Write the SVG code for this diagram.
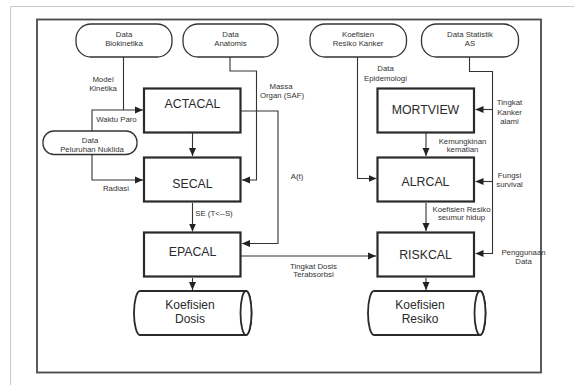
<svg xmlns="http://www.w3.org/2000/svg" width="574" height="385" viewBox="0 0 574 385">
<defs>
<marker id="ah" viewBox="0 0 8 8" refX="8" refY="4" markerWidth="8" markerHeight="8" markerUnits="userSpaceOnUse" orient="auto">
<path d="M0,0.5 L8,4 L0,7.5 Z" fill="#222"/>
</marker>
<style>
.pill{fill:#fff;stroke:#333;stroke-width:1.3}
.box{fill:#fff;stroke:#2a2a2a;stroke-width:2.2}
.cyl{fill:#fff;stroke:#2a2a2a;stroke-width:1.8}
.c{fill:none;stroke:#333;stroke-width:1.1}
.a{marker-end:url(#ah)}
text{font-family:"Liberation Sans",Arial,sans-serif;fill:#333}
.s{font-size:7.8px;text-anchor:middle}
.n{font-size:12.3px;text-anchor:middle;fill:#2a2a2a}
.k{font-size:12px;text-anchor:middle;fill:#2a2a2a}
</style>
</defs>
<rect width="574" height="385" fill="#fff"/>
<path d="M10.5,385 V6.5 H574" fill="none" stroke="#c8c8c8" stroke-width="1"/>
<rect x="37" y="19.5" width="504" height="353" fill="none" stroke="#4a4a4a" stroke-width="1.8"/>

<g id="connectors">
<path class="c" d="M123.5,57 V110"/>
<path class="c a" d="M92,131 V110 H143"/>
<path class="c a" d="M92,154 V180 H143"/>
<path class="c a" d="M192.5,133 V156"/>
<path class="c a" d="M230,57 V71 H256.5 V180 H242"/>
<path class="c a" d="M241,111 H278 V243.5 H242"/>
<path class="c a" d="M192.5,203 V231.5"/>
<path class="c a" d="M241,256 H376"/>
<path class="c a" d="M192.5,278 V290"/>
<path class="c a" d="M357.5,57 V178.5 H376.5"/>
<path class="c a" d="M469.5,57 V71.5 H492.5 V253.5 H475.5"/>
<path class="c a" d="M492.5,109.5 H475.5"/>
<path class="c a" d="M492.5,181.5 H475.5"/>
<path class="c a" d="M426,133 V156"/>
<path class="c a" d="M426,203 V231"/>
<path class="c a" d="M426,278 V290"/>
</g>

<g id="lbl">
<text class="s" x="103" y="82">Model</text>
<text class="s" x="103" y="91">Kinetika</text>
<text class="s" x="116.5" y="122">Waktu Paro</text>
<text class="s" x="116" y="191">Radiasi</text>
<text class="s" x="281" y="88.5">Massa</text>
<text class="s" x="282" y="97.5">Organ (SAF)</text>
<text class="s" x="297" y="179">A(t)</text>
<text class="s" x="214" y="215.5">SE (T&lt;--S)</text>
<text class="s" x="313.5" y="269">Tingkat Dosis</text>
<text class="s" x="313.5" y="277">Terabsorbsi</text>
<text class="s" x="385.5" y="71">Data</text>
<text class="s" x="385.5" y="81">Epidemologi</text>
<text class="s" x="509.5" y="105">Tingkat</text>
<text class="s" x="509.5" y="114.5">Kanker</text>
<text class="s" x="509.5" y="124">alami</text>
<text class="s" x="462.5" y="144">Kemungkinan</text>
<text class="s" x="462.5" y="152">kematian</text>
<text class="s" x="509.5" y="178">Fungsi</text>
<text class="s" x="509.5" y="187">survival</text>
<text class="s" x="461.5" y="212">Koefisien Resiko</text>
<text class="s" x="461.5" y="220">seumur hidup</text>
<text class="s" x="523.5" y="255">Penggunaan</text>
<text class="s" x="523.5" y="264">Data</text>
</g>

<g id="data-biokinetika">
<rect class="pill" x="76" y="24" width="96" height="33" rx="15"/>
<text class="s" x="124" y="37">Data</text>
<text class="s" x="124" y="46">Biokinetika</text>
</g>
<g id="data-anatomis">
<rect class="pill" x="183" y="24" width="95" height="33" rx="15"/>
<text class="s" x="230.5" y="37">Data</text>
<text class="s" x="230.5" y="46">Anatomis</text>
</g>
<g id="koefisien-resiko-kanker">
<rect class="pill" x="310" y="24" width="96.5" height="33" rx="15"/>
<text class="s" x="358" y="37">Koefisien</text>
<text class="s" x="358" y="46">Resiko Kanker</text>
</g>
<g id="data-statistik">
<rect class="pill" x="421.5" y="24" width="97" height="33" rx="15"/>
<text class="s" x="470" y="37">Data Statistik</text>
<text class="s" x="470" y="46">AS</text>
</g>
<g id="data-peluruhan">
<rect class="pill" x="43" y="131" width="94" height="23.5" rx="11"/>
<text class="s" x="90" y="143">Data</text>
<text class="s" x="92" y="152">Peluruhan Nuklida</text>
</g>

<g id="actacal">
<rect class="box" x="144" y="88.5" width="96.5" height="44"/>
<text class="n" x="192.5" y="108">ACTACAL</text>
</g>
<g id="secal">
<rect class="box" x="144" y="157.5" width="96.5" height="44"/>
<text class="n" x="192.5" y="187.5">SECAL</text>
</g>
<g id="epacal">
<rect class="box" x="144" y="232.5" width="96.5" height="44"/>
<text class="n" x="192.5" y="255.5">EPACAL</text>
</g>
<g id="mortview">
<rect class="box" x="377.5" y="88.5" width="96.5" height="44"/>
<text class="n" x="425.5" y="114">MORTVIEW</text>
</g>
<g id="alrcal">
<rect class="box" x="377.5" y="157.5" width="96.5" height="44"/>
<text class="n" x="425.5" y="186">ALRCAL</text>
</g>
<g id="riskcal">
<rect class="box" x="377.5" y="232.5" width="96.5" height="44"/>
<text class="n" x="425.5" y="258.5">RISKCAL</text>
</g>

<g id="koefisien-dosis">
<path class="cyl" d="M140,291 H246 A5.5,22 0 0 1 246,335 H140 A6,22 0 0 1 140,291 Z"/>
<ellipse class="cyl" cx="246" cy="313" rx="5.5" ry="22"/>
<text class="k" x="190" y="309">Koefisien</text>
<text class="k" x="190" y="323">Dosis</text>
</g>
<g id="koefisien-resiko">
<path class="cyl" d="M374,291 H480 A5.5,22 0 0 1 480,335 H374 A6,22 0 0 1 374,291 Z"/>
<ellipse class="cyl" cx="480" cy="313" rx="5.5" ry="22"/>
<text class="k" x="420" y="309">Koefisien</text>
<text class="k" x="420" y="323">Resiko</text>
</g>
</svg>
